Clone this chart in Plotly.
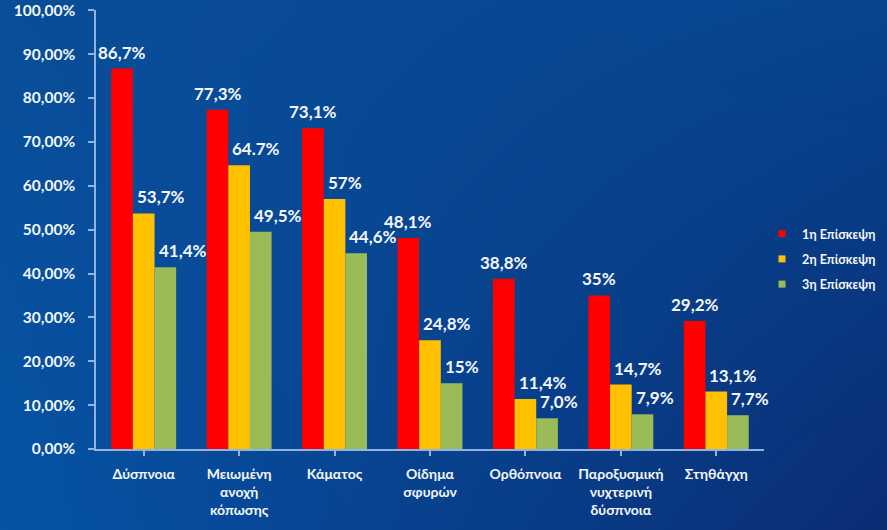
import base64, zlib, struct
import numpy as np
import plotly.graph_objects as go

# ---- data ----
categories = ["Δύσπνοια", "Μειωμένη<br>ανοχή<br>κόπωσης", "Κάματος", "Οίδημα<br>σφυρών",
              "Ορθόπνοια", "Παροξυσμική<br>νυχτερινή<br>δύσπνοια", "Στηθάγχη"]
series_names = ["1η Επίσκεψη", "2η Επίσκεψη", "3η Επίσκεψη"]
visit1 = [86.7, 77.3, 73.1, 48.1, 38.8, 35.0, 29.2]
visit2 = [53.7, 64.7, 57.0, 24.8, 11.4, 14.7, 13.1]
visit3 = [41.4, 49.5, 44.6, 15.0, 7.0, 7.9, 7.7]
labels1 = ["86,7%", "77,3%", "73,1%", "48,1%", "38,8%", "35%", "29,2%"]
labels2 = ["53,7%", "64.7%", "57%", "24,8%", "11,4%", "14,7%", "13,1%"]
labels3 = ["41,4%", "49,5%", "44,6%", "15%", "7,0%", "7,9%", "7,7%"]
y_ticks = [0.0, 0.1, 0.2, 0.3, 0.4, 0.5, 0.6, 0.7, 0.8, 0.9, 1.0]

# ---- style ----
W, H = 887, 530
ML, MR, MT, MB = 96, 123, 10, 81
colors = ["#ff0000", "#ffc000", "#9bbb59"]
axis_col = "#8eb4e3"
txt_col = "#f4f6fa"
FONT = "Lato"
BARGAP = 0.32
YMAX = 1.0006


def gradient_png(w, h):
    tl = np.array([10, 78, 152], float)
    tr = np.array([7, 69, 143], float)
    bl = np.array([6, 84, 166], float)
    br = np.array([11, 45, 116], float)
    xs = np.linspace(0, 1, w)[None, :, None]
    ys = np.linspace(0, 1, h)[:, None, None]
    img = (tl * (1 - xs) * (1 - ys) + tr * xs * (1 - ys) + bl * (1 - xs) * ys + br * xs * ys)
    img = np.clip(img, 0, 255).astype(np.uint8)
    raw = b"".join(b"\x00" + img[r].tobytes() for r in range(h))

    def chunk(t, d):
        c = struct.pack(">I", len(d)) + t + d
        return c + struct.pack(">I", zlib.crc32(t + d) & 0xffffffff)

    png = b"\x89PNG\r\n\x1a\n" + chunk(b"IHDR", struct.pack(">IIBBBBB", w, h, 8, 2, 0, 0, 0)) \
        + chunk(b"IDAT", zlib.compress(raw, 9)) + chunk(b"IEND", b"")
    return "data:image/png;base64," + base64.b64encode(png).decode()


fig = go.Figure()
all_vals = [visit1, visit2, visit3]
all_labels = [labels1, labels2, labels3]
for name, vals, col in zip(series_names, all_vals, colors):
    fig.add_trace(go.Bar(x=list(range(len(categories))), y=[v / 100 for v in vals],
                         name=name, marker=dict(color=col, line=dict(width=0)),
                         showlegend=False, hoverinfo="skip"))
for name, col in zip(series_names, colors):
    fig.add_trace(go.Scatter(x=[None], y=[None], mode="markers", name=name,
                             marker=dict(symbol="square", size=7, color=col),
                             legendgroup=name))

bw = (1 - BARGAP) / 3
annotations = []
for s, (vals, labs) in enumerate(zip(all_vals, all_labels)):
    off = (s - 1) * bw
    for i, (v, lab) in enumerate(zip(vals, labs)):
        if s == 0:
            ax, anchor, xs = i + off, "center", 0
        else:
            ax, anchor, xs = i + off - bw / 2, "left", 2
        annotations.append(dict(x=ax, y=v / 100, xref="x", yref="y", text=lab,
                                showarrow=False, xanchor=anchor, yanchor="bottom",
                                xshift=xs, yshift=4,
                                font=dict(family=FONT, size=17, color=txt_col, weight="bold")))

pw = W - ML - MR
ph = H - MT - MB
fig.update_layout(
    width=W, height=H,
    margin=dict(l=ML, r=MR, t=MT, b=MB, pad=0, autoexpand=False),
    paper_bgcolor="#0a4a92", plot_bgcolor="rgba(0,0,0,0)",
    separators=",.",
    barmode="group", bargap=BARGAP, bargroupgap=0,
    font=dict(family=FONT, color=txt_col),
    images=[dict(source=gradient_png(W, H), xref="paper", yref="paper",
                 x=-ML / pw, y=1 + MT / ph, sizex=W / pw, sizey=H / ph,
                 sizing="stretch", layer="below", xanchor="left", yanchor="top")],
    annotations=annotations,
    legend=dict(x=1 + (762 - ML - pw) / pw, y=(H - MB - 219) / ph, xanchor="left", yanchor="top",
                bgcolor="rgba(0,0,0,0)", traceorder="grouped", tracegroupgap=6,
                itemwidth=30, font=dict(family=FONT, size=12.5, color=txt_col, weight="bold")),
    showlegend=True,
)
fig.update_xaxes(
    range=[-0.5, len(categories) - 0.5], tickmode="array",
    tickvals=list(range(len(categories))), ticktext=categories,
    showline=True, linecolor=axis_col, linewidth=1.5, automargin=False,
    ticks="outside", tickson="boundaries", ticklen=5, tickcolor=axis_col, tickwidth=1.5,
    showgrid=False, zeroline=False, ticklabelstandoff=6,
    tickfont=dict(family=FONT, size=14, color=txt_col, weight="bold"),
)
fig.update_yaxes(
    range=[0, YMAX], tickmode="array", tickvals=y_ticks, tickformat=".2%",
    showline=True, linecolor=axis_col, linewidth=1.5, automargin=False,
    ticks="outside", ticklen=6, tickcolor=axis_col, tickwidth=1.5,
    showgrid=False, zeroline=False, ticklabelstandoff=10, ticklabeloverflow="allow",
    tickfont=dict(family=FONT, size=15.5, color=txt_col, weight="bold"),
)
fig.write_html("out.html", config={"displayModeBar": False},
               post_script="document.body.style.margin='0';")
